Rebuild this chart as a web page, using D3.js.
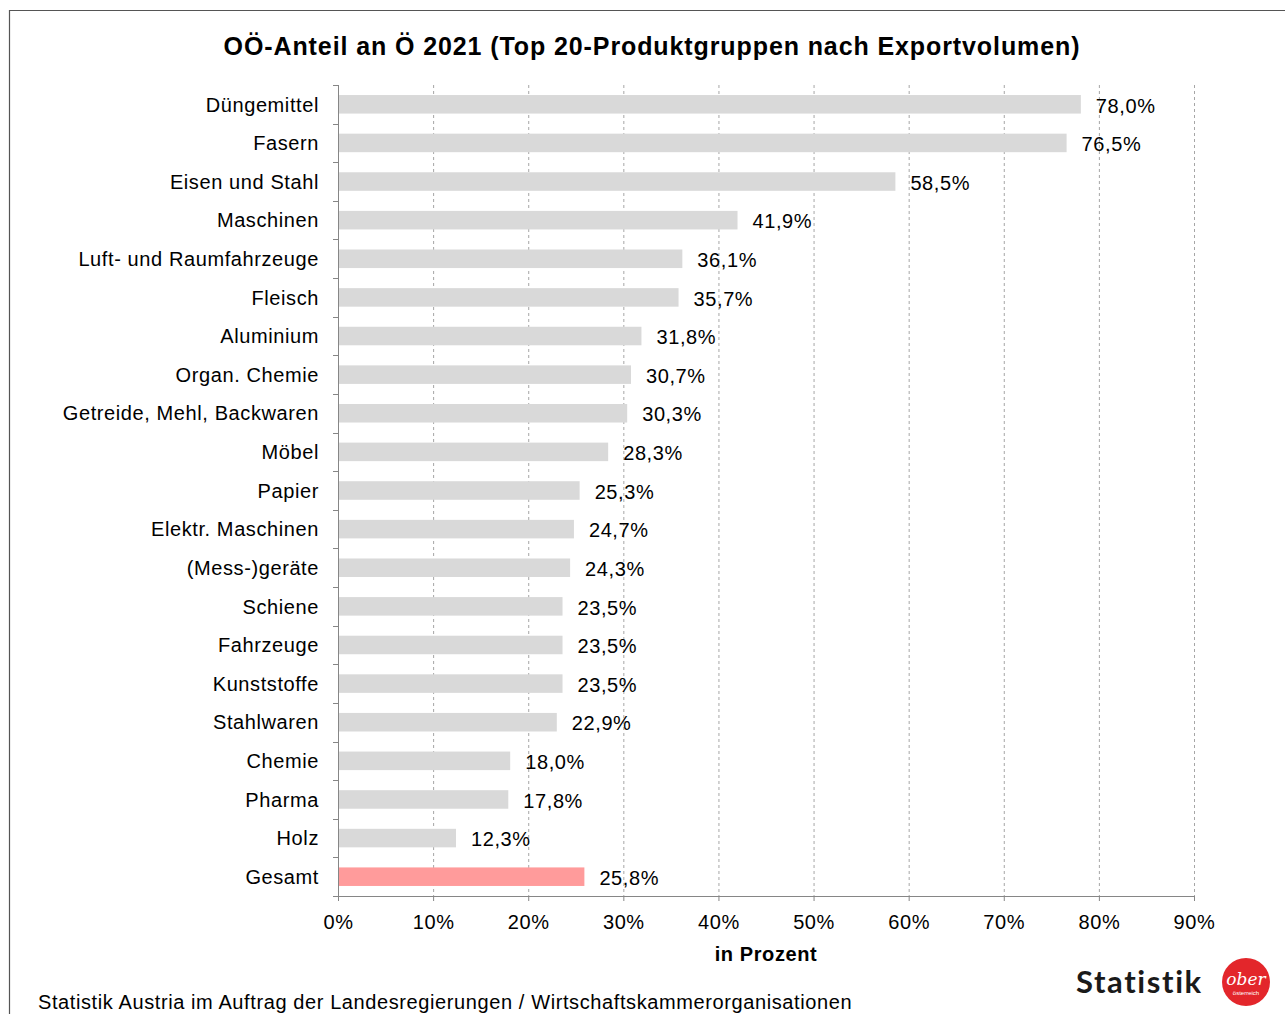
<!DOCTYPE html>
<html>
<head>
<meta charset="utf-8">
<script src="https://cdn.jsdelivr.net/npm/d3@7"></script>
<style>
  body { margin: 0; background: #fff; }
  svg { font-family: "Liberation Sans", Arial, sans-serif; }
</style>
</head>
<body>
<div id="chart"></div>
<script>
var categories = ["Düngemittel", "Fasern", "Eisen und Stahl", "Maschinen", "Luft- und Raumfahrzeuge",
  "Fleisch", "Aluminium", "Organ. Chemie", "Getreide, Mehl, Backwaren", "Möbel", "Papier",
  "Elektr. Maschinen", "(Mess-)geräte", "Schiene", "Fahrzeuge", "Kunststoffe", "Stahlwaren",
  "Chemie", "Pharma", "Holz", "Gesamt"]
var values = [78.0, 76.5, 58.5, 41.9, 36.1, 35.7, 31.8, 30.7, 30.3, 28.3, 25.3,
  24.7, 24.3, 23.5, 23.5, 23.5, 22.9, 18.0, 17.8, 12.3, 25.8]
var xTicks = [0, 10, 20, 30, 40, 50, 60, 70, 80, 90]

var width = 1285, height = 1014
var margin = {top: 85, right: 91, bottom: 118, left: 338}
var fs = 20, ls = 0.6

var svg = d3.select("#chart").append("svg")
  .attr("width", width).attr("height", height)

// outer frame
svg.append("path")
  .attr("d", `M9.5,${height} L9.5,10.5 L${width},10.5`)
  .attr("fill", "none").attr("stroke", "#555").attr("stroke-width", 1.2)

var x = d3.scaleLinear().domain([0, 90]).range([margin.left, width - margin.right])
var y = d3.scaleBand().domain(categories).range([margin.top, height - margin.bottom]).paddingInner(0.52).paddingOuter(0.26)

// gridlines
svg.append("g").selectAll("line")
  .data(xTicks.slice(1))
  .enter().append("line")
  .attr("x1", d => x(d) + 0.5).attr("x2", d => x(d) + 0.5)
  .attr("y1", margin.top).attr("y2", height - margin.bottom)
  .attr("stroke", "#a6a6a6").attr("stroke-dasharray", "3,3")

// bars
var data = categories.map((c, i) => ({name: c, value: values[i]}))
svg.append("g").selectAll("rect")
  .data(data)
  .enter().append("rect")
  .attr("x", x(0) + 1)
  .attr("y", d => y(d.name))
  .attr("width", d => x(d.value) - x(0))
  .attr("height", y.bandwidth())
  .attr("fill", d => d.name == "Gesamt" ? "#ff9b9b" : "#d9d9d9")

// value labels
svg.append("g").selectAll("text")
  .data(data)
  .enter().append("text")
  .attr("x", d => x(d.value) + 16)
  .attr("y", d => y(d.name) + y.bandwidth() / 2 + 1)
  .attr("dy", "0.36em")
  .attr("font-size", fs).attr("letter-spacing", ls)
  .attr("fill", "#000")
  .text(d => d.value.toFixed(1).replace(".", ",") + "%")

// y axis
var yTickPos = d3.range(categories.length + 1).map(i => margin.top + i * y.step())
var yAxis = svg.append("g")
yAxis.append("line")
  .attr("x1", x(0) + 0.5).attr("x2", x(0) + 0.5)
  .attr("y1", margin.top).attr("y2", height - margin.bottom)
  .attr("stroke", "#868686")
yAxis.selectAll("line.tick").data(yTickPos).enter().append("line")
  .attr("class", "tick")
  .attr("x1", x(0) - 5).attr("x2", x(0))
  .attr("y1", d => Math.round(d) + 0.5).attr("y2", d => Math.round(d) + 0.5)
  .attr("stroke", "#868686")
yAxis.selectAll("text").data(categories).enter().append("text")
  .attr("x", x(0) - 19)
  .attr("y", d => y(d) + y.bandwidth() / 2)
  .attr("dy", "0.36em")
  .attr("text-anchor", "end")
  .attr("font-size", fs).attr("letter-spacing", ls)
  .text(d => d)

// x axis
var xAxis = svg.append("g")
  .attr("transform", `translate(0,${height - margin.bottom})`)
  .call(d3.axisBottom(x).tickValues(xTicks).tickSize(5).tickPadding(14).tickFormat(d => d + "%"))
xAxis.select(".domain").attr("stroke", "#868686")
xAxis.selectAll(".tick line").attr("stroke", "#868686")
xAxis.selectAll(".tick text").attr("font-size", fs).attr("letter-spacing", ls).attr("fill", "#000")
  .attr("font-family", "Liberation Sans, Arial, sans-serif")

svg.append("text")
  .attr("x", (x(0) + x(90)) / 2).attr("y", 961)
  .attr("text-anchor", "middle")
  .attr("font-size", fs).attr("letter-spacing", ls).attr("font-weight", "bold")
  .text("in Prozent")

// title
svg.append("text")
  .attr("x", 652).attr("y", 55)
  .attr("text-anchor", "middle")
  .attr("font-size", 25).attr("letter-spacing", 0.9).attr("font-weight", "bold")
  .text("OÖ-Anteil an Ö 2021 (Top 20-Produktgruppen nach Exportvolumen)")

// source
svg.append("text")
  .attr("x", 38).attr("y", 1009)
  .attr("font-size", fs).attr("letter-spacing", ls)
  .text("Statistik Austria im Auftrag der Landesregierungen / Wirtschaftskammerorganisationen")

// logo
svg.append("text")
  .attr("x", 1076).attr("y", 993)
  .attr("font-family", "Lato, sans-serif")
  .attr("font-size", 31).attr("font-weight", "bold").attr("letter-spacing", 1.6)
  .attr("fill", "#1a1a1a")
  .text("Statistik")
svg.append("circle").attr("cx", 1246).attr("cy", 982).attr("r", 24).attr("fill", "#e3262b")
svg.append("text").attr("x", 1246).attr("y", 985)
  .attr("text-anchor", "middle").attr("font-size", 17).attr("font-style", "italic")
  .attr("font-family", "DejaVu Serif, serif").attr("fill", "#fff").text("ober")
svg.append("text").attr("x", 1246).attr("y", 995)
  .attr("text-anchor", "middle").attr("font-size", 6).attr("fill", "#fff").text("österreich")
</script>
</body>
</html>
